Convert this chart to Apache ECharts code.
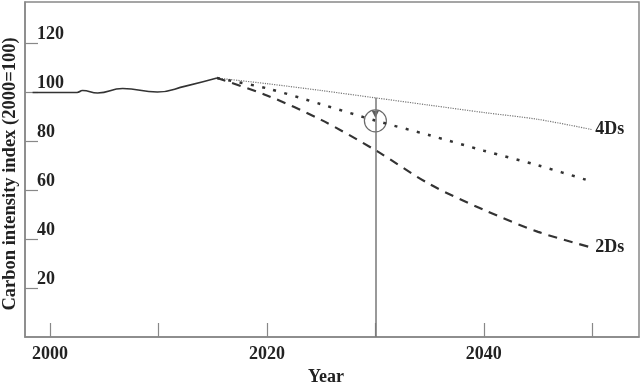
<!DOCTYPE html>
<html>
<head>
<meta charset="utf-8">
<script src="https://cdn.jsdelivr.net/npm/echarts@6/dist/echarts.min.js"></script>
<style>
  html, body { margin: 0; padding: 0; background: #fff; }
  #chart { width: 641px; height: 384px; }
</style>
</head>
<body>
<div id="chart"></div>
<script>
// historical carbon intensity (solid)
var histYears = [1998.4, 2002.5, 2003.0, 2004.4, 2006.7, 2009.9, 2012.5, 2015.4];
var histValues = [100, 100, 100.8, 99.8, 101.6, 100.2, 102.6, 105.9];

// scenarios
var scenYears = [2015.4, 2020, 2025, 2030, 2035, 2040, 2045, 2050];
var ds4Values = [105.9, 103.6, 100.8, 97.8, 94.8, 91.8, 89.0, 84.8];
var midValues = [105.9, 101.7, 95.2, 88.5, 82.5, 76.2, 70.2, 63.5];
var ds2Values = [105.9, 98.8, 88.8, 76.4, 62.5, 52.0, 43.0, 36.5];

var xTicks = [2000, 2010, 2020, 2030, 2040, 2050];
var xLabels = [2000, 2020, 2040];
var yTicks = [20, 40, 60, 80, 100, 120];

// annotation at 2030
var markYear = 2030;
var markTop = 97.8;
var arrowValue = 91.0;
var circleValue = 88.4;

function pairs(xs, ys) {
  return xs.map(function (x, i) { return [x, ys[i]]; });
}

var serif = '"Liberation Serif", "DejaVu Serif", serif';
var chart = echarts.init(document.getElementById('chart'));

var option = {
  animation: false,
  grid: {
    left: 25, right: 2, top: 2, bottom: 47,
    outerBoundsMode: 'none',
    containLabel: false,
    show: true, borderColor: '#888', borderWidth: 1.5
  },
  // y axis title
  graphic: [{
    type: 'text',
    x: 10, y: 174,
    rotation: Math.PI / 2,
    style: {
      text: 'Carbon intensity index (2000=100)',
      align: 'center', verticalAlign: 'middle',
      fontFamily: serif, fontWeight: 'bold', fontSize: 18.5, fill: '#222'
    }
  }],
  xAxis: {
    type: 'value',
    min: 1997.7,
    max: 2054.3,
    name: 'Year',
    nameLocation: 'middle',
    nameGap: 30,
    nameTextStyle: { fontFamily: serif, fontWeight: 'bold', fontSize: 18, color: '#222', padding: [0, 12, 0, 0] },
    splitLine: { show: false },
    axisLine: { lineStyle: { color: '#888', width: 1.5 } },
    axisTick: { inside: true, length: 14, customValues: xTicks, lineStyle: { color: '#888', width: 1.2 } },
    axisLabel: {
      customValues: xLabels, margin: 8,
      formatter: function (v) { return String(v); },
      fontFamily: serif, fontWeight: 'bold', fontSize: 18, color: '#222'
    }
  },
  yAxis: {
    type: 'value',
    min: 0,
    max: 137,
    splitLine: { show: false },
    axisLine: { lineStyle: { color: '#888', width: 1.5 } },
    axisTick: { inside: true, length: 13, customValues: yTicks, lineStyle: { color: '#888', width: 1.2 } },
    axisLabel: {
      inside: true, customValues: yTicks, margin: 12, verticalAlign: 'bottom',
      fontFamily: serif, fontWeight: 'bold', fontSize: 18, color: '#222'
    }
  },
  series: [
    {
      type: 'line', smooth: true, symbol: 'none',
      data: pairs(histYears, histValues),
      lineStyle: { color: '#333', width: 1.6 }
    },
    {
      type: 'line', smooth: 0.3, symbol: 'none',
      data: pairs(scenYears, ds4Values),
      lineStyle: { color: '#777', width: 1.2, type: [1.2, 1.2] },
      endLabel: { show: true, formatter: '4Ds', distance: 3, fontFamily: serif, fontWeight: 'bold', fontSize: 18, color: '#222' },
      markLine: {
        silent: true, symbol: 'none', label: { show: false },
        lineStyle: { color: '#777', width: 1.5, type: 'solid' },
        data: [[{ coord: [markYear, markTop] }, { coord: [markYear, 0] }]]
      }
    },
    {
      type: 'line', smooth: 0.3, symbol: 'none',
      data: pairs(scenYears, midValues),
      lineStyle: { color: '#333', width: 2.5, type: [3, 8.5] }
    },
    {
      type: 'line', smooth: 0.3, symbol: 'none',
      data: pairs(scenYears, ds2Values),
      lineStyle: { color: '#333', width: 2.2, type: [9, 7] },
      endLabel: { show: true, formatter: '2Ds', distance: 3, fontFamily: serif, fontWeight: 'bold', fontSize: 18, color: '#222' }
    },
    {
      type: 'scatter', silent: true,
      symbol: 'circle', symbolSize: 22,
      itemStyle: { color: 'rgba(0,0,0,0)', borderColor: '#444', borderWidth: 1.2 },
      data: [[markYear, circleValue]]
    },
    {
      type: 'scatter', silent: true,
      symbol: 'triangle', symbolSize: [7, 7], symbolRotate: 180,
      itemStyle: { color: '#333' },
      data: [[markYear, arrowValue]]
    }
  ]
};
chart.setOption(option);
</script>
</body>
</html>
